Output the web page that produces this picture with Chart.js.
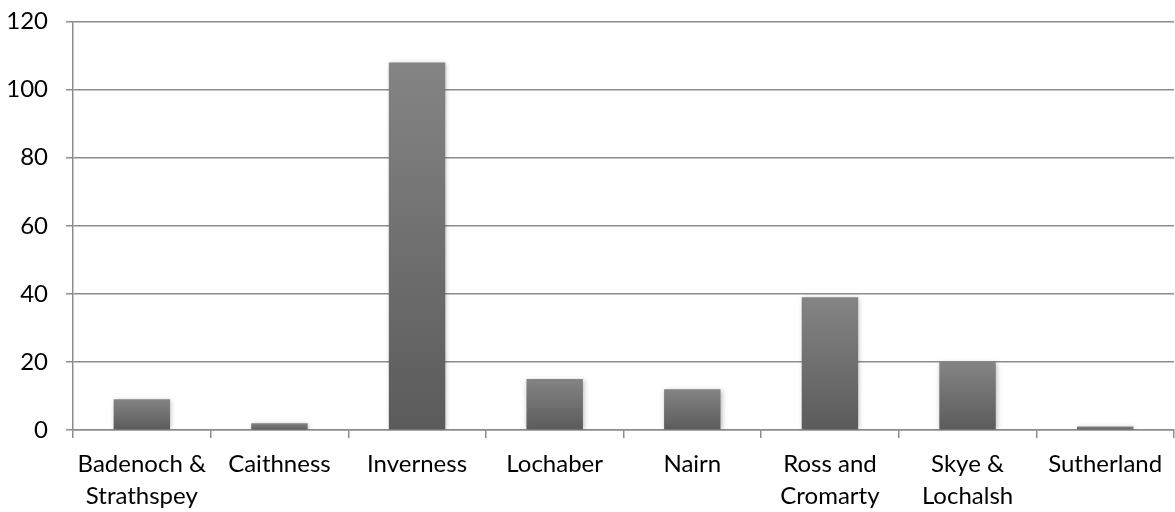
<!DOCTYPE html>
<html>
<head>
<meta charset="utf-8">
<script src="https://cdn.jsdelivr.net/npm/chart.js@4"></script>
<style>
  html, body { margin: 0; padding: 0; background: #ffffff; }
  #wrap { width: 1175px; height: 512px; }
</style>
</head>
<body>
<div id="wrap"><canvas id="c" width="1175" height="512"></canvas></div>
<script>
// Highland areas and their counts
const areas = [
  ["Badenoch &", "Strathspey"],
  "Caithness",
  "Inverness",
  "Lochaber",
  "Nairn",
  ["Ross and", "Cromarty"],
  ["Skye &", "Lochalsh"],
  "Sutherland"
];
const counts = [9, 2, 108, 15, 12, 39, 20, 1];
const yTicks = [0, 20, 40, 60, 80, 100, 120];

const FONT = "Lato, 'Open Sans', sans-serif";
const AXIS_GREY = "#8c8c8c";

// soft drop shadow under the bars
const barShadow = {
  id: "barShadow",
  beforeDatasetsDraw(chart) {
    const ctx = chart.ctx;
    ctx.save();
    ctx.shadowColor = "rgba(0,0,0,0.28)";
    ctx.shadowBlur = 5;
    ctx.shadowOffsetX = 1;
    ctx.shadowOffsetY = 1;
  },
  afterDatasetsDraw(chart) {
    chart.ctx.restore();
  }
};

function barFill(context) {
  const chart = context.chart;
  if (!chart.chartArea) return "#707070";
  const y = chart.scales.y;
  const top = y.getPixelForValue(context.raw);
  const bottom = y.getPixelForValue(0);
  if (!isFinite(top) || bottom - top < 1) return "#6a6a6a";
  const g = chart.ctx.createLinearGradient(0, top, 0, bottom);
  g.addColorStop(0, "#848484");
  g.addColorStop(1, "#5b5b5b");
  return g;
}

new Chart(document.getElementById("c"), {
  type: "bar",
  data: {
    labels: areas,
    datasets: [{
      data: counts,
      backgroundColor: barFill,
      borderWidth: 0,
      categoryPercentage: 1,
      barPercentage: 0.41
    }]
  },
  plugins: [barShadow],
  options: {
    responsive: false,
    animation: false,
    devicePixelRatio: 1,
    layout: { padding: { top: 0, right: 1, left: 0, bottom: 0 } },
    plugins: {
      legend: { display: false },
      tooltip: { enabled: false }
    },
    scales: {
      x: {
        grid: {
          drawOnChartArea: false,
          color: AXIS_GREY,
          lineWidth: 1.5,
          tickLength: 8,
          offset: true
        },
        border: { display: true, color: AXIS_GREY, width: 1.5 },
        ticks: {
          color: "#000000",
          font: { family: FONT, size: 24, lineHeight: 1.33 },
          padding: 10,
          maxRotation: 0,
          autoSkip: false
        },
        afterFit(s) { s.height = 82; }
      },
      y: {
        min: 0,
        max: 120,
        afterBuildTicks(s) { s.ticks = yTicks.map(v => ({ value: v })); },
        grid: {
          color: AXIS_GREY,
          lineWidth: 1.5,
          tickLength: 7
        },
        border: { display: true, color: AXIS_GREY, width: 1.5 },
        ticks: {
          color: "#000000",
          font: { family: FONT, size: 24, lineHeight: 0.3 },
          padding: 18
        },
        afterFit(s) { s.width = 73; }
      }
    }
  }
});
</script>
</body>
</html>
